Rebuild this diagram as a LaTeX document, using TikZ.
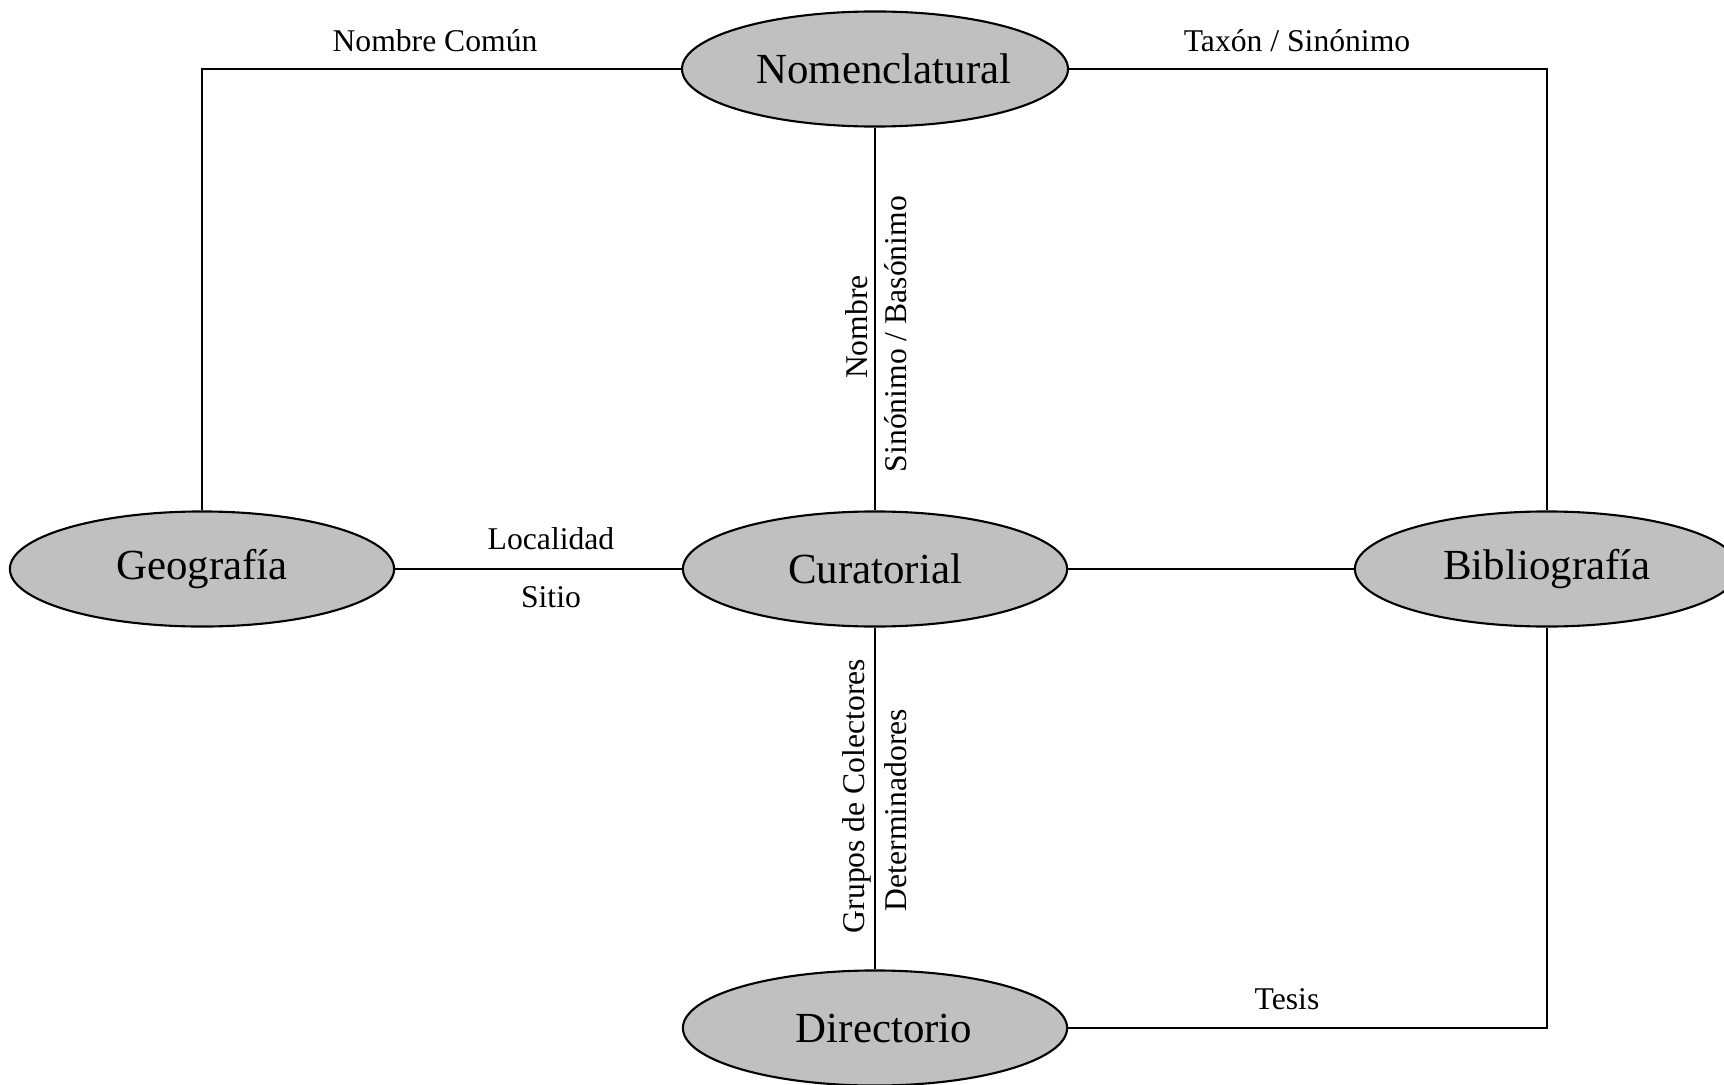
\documentclass[tikz,border=0pt]{standalone}
\usepackage{fontspec}
\setmainfont{Liberation Serif}
\usetikzlibrary{positioning,shapes.geometric}

\begin{document}
\begin{tikzpicture}[x=0.01cm,y=-0.01cm]
%styles
	\tikzset{
	modulo/.style={ellipse,draw,line width=0.6pt,fill=silver,minimum width=3.84cm,minimum height=1.15cm,inner sep=0pt,font=\fontsize{12.2}{14}\selectfont},
	rel/.style={line width=0.6pt},
	lbl/.style={inner sep=0pt,font=\fontsize{9}{11}\selectfont}}
	\definecolor{silver}{RGB}{192,192,192}

	\useasboundingbox (0,0) rectangle (1724,1085);

%modulos
	\node[modulo] (nom) at (875,69) {\hspace{0.18cm}Nomenclatural};
	\node[modulo] (cur) at (875,569) {Curatorial};
	\node[modulo] (geo) at (202,569) {Geografía};
	\node[modulo] (bib) at (1547,569) {Bibliografía};
	\node[modulo] (dir) at (875,1028) {\hspace{0.18cm}Directorio};

%relaciones
	\draw[rel] (nom.west) -| (geo.north);
	\draw[rel] (nom.east) -| (bib.north);
	\draw[rel] (nom.south) -- (cur.north);
	\draw[rel] (geo.east) -- (cur.west);
	\draw[rel] (cur.east) -- (bib.west);
	\draw[rel] (cur.south) -- (dir.north);
	\draw[rel] (dir.east) -| (bib.south);

%etiquetas
	\node[lbl] (comun) at (435,41) {Nombre Común};
	\node[lbl] (taxon) at (1297,41) {Taxón / Sinónimo};
	\node[lbl] (local) at (551,539) {Localidad};
	\node[lbl] (sitio) at (551,597) {Sitio};
	\node[lbl] (tesis) at (1287,999) {Tesis};
	\node[lbl,rotate=90] (nombre) at (856.5,327) {Nombre};
	\node[lbl,rotate=90] (sinon) at (896,334) {Sinónimo / Basónimo};
	\node[lbl,rotate=90] (grupos) at (856.5,796) {Grupos de Colectores};
	\node[lbl,rotate=90] (determ) at (896,810) {Determinadores};

\end{tikzpicture}
\end{document}
